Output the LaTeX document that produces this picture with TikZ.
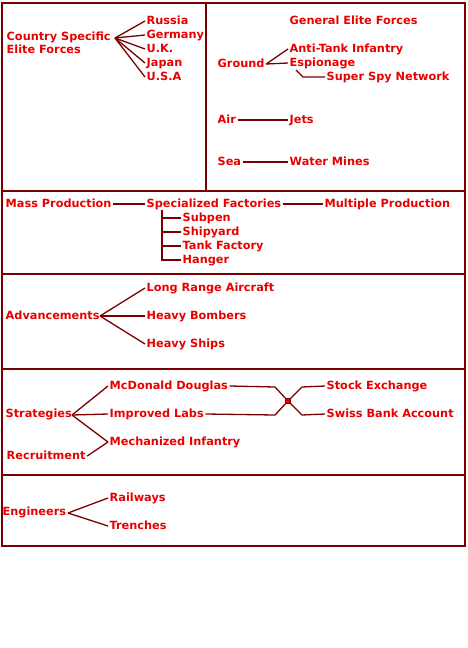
\documentclass[tikz,border=0pt]{standalone}
\usepackage{fontspec}
\setmainfont{DejaVu Sans}
\usepackage{xcolor}
\usepackage{pdfrender}
\definecolor{dred}{HTML}{7A0000}
\definecolor{tred}{HTML}{E80000}
\newcommand{\rtxt}[1]{\textpdfrender{TextRenderingMode=FillStroke,LineWidth=0.6pt,StrokeColor=dred,FillColor=tred}{#1}}
\begin{document}
\begin{tikzpicture}[x=1pt,y=-1pt,
  lbl/.style={anchor=west,inner xsep=1.5pt,inner ysep=0pt,text height=8pt,text depth=2pt,
    font=\bfseries\fontsize{11.3}{12}\selectfont,text=tred,execute at begin node=\rtxt\bgroup,execute at end node=\egroup},
  conn/.style={draw=dred,line width=1.3pt},
  frame/.style={draw=dred,line width=1.5pt}]
\useasboundingbox (0,0) rectangle (468,648);
% frame
\draw[frame] (2,3) rectangle (465,546);
\draw[frame] (2,191) -- (465,191);
\draw[frame] (2,274) -- (465,274);
\draw[frame] (2,369) -- (465,369);
\draw[frame] (2,475) -- (465,475);
\draw[frame] (206,3) -- (206,191);
% country specific
\node[lbl] (cs1) at (5,37) {Country Specific};
\node[lbl] (cs2) at (5,50) {Elite Forces};
\coordinate (csj) at (115,38);
\node[lbl] (rus) at (145,21) {Russia};
\node[lbl] (ger) at (145,35) {Germany};
\node[lbl] (uk) at (145,49) {U.K.};
\node[lbl] (jap) at (145,63) {Japan};
\node[lbl] (usa) at (145,77) {U.S.A};
\foreach \t in {rus,ger,uk,jap,usa} \draw[conn] (csj) -- (\t.west);
% general elite
\node[lbl] (gef) at (288,21) {General Elite Forces};
\node[lbl] (gnd) at (216,64) {Ground};
\node[lbl] (ati) at (288,49) {Anti-Tank Infantry};
\node[lbl] (esp) at (288,63) {Espionage};
\node[lbl] (ssn) at (325,77) {Super Spy Network};
\draw[conn] (gnd.east) -- (ati.west);
\draw[conn] (gnd.east) -- (esp.west);
\coordinate (espd) at (296,70);
\coordinate (espk) at (303,77);
\draw[conn] (espd) -- (espk) -- (ssn.west);
\node[lbl] (air) at (216,120) {Air};
\node[lbl] (jets) at (288,120) {Jets};
\draw[conn] (air.east) -- (jets.west);
\node[lbl] (sea) at (216,162) {Sea};
\node[lbl] (wm) at (288,162) {Water Mines};
\draw[conn] (sea.east) -- (wm.west);
% mass production
\node[lbl] (mass) at (4,204) {Mass Production};
\node[lbl] (sf) at (145,204) {Specialized Factories};
\node[lbl] (mp) at (323,204) {Multiple Production};
\draw[conn] (mass.east) -- (sf.west);
\draw[conn] (sf.east) -- (mp.west);
\node[lbl] (sub) at (181,218) {Subpen};
\node[lbl] (ship) at (181,232) {Shipyard};
\node[lbl] (tank) at (181,246) {Tank Factory};
\node[lbl] (hang) at (181,260) {Hanger};
\coordinate (sft) at (162,210);
\coordinate (sfb) at (162,260);
\draw[conn] (sft) -- (sfb) -- (hang.west);
\draw[conn] (sft |- sub.west) -- (sub.west);
\draw[conn] (sft |- ship.west) -- (ship.west);
\draw[conn] (sft |- tank.west) -- (tank.west);
% advancements
\node[lbl] (adv) at (4,316) {Advancements};
\coordinate (advj) at (100,316);
\node[lbl] (lra) at (145,288) {Long Range Aircraft};
\node[lbl] (hb) at (145,316) {Heavy Bombers};
\node[lbl] (hs) at (145,344) {Heavy Ships};
\foreach \t in {lra,hb,hs} \draw[conn] (advj) -- (\t.west);
% strategies
\node[lbl] (str) at (4,414) {Strategies};
\coordinate (strj) at (72,415);
\node[lbl] (md) at (108,386) {McDonald Douglas};
\node[lbl] (il) at (108,414) {Improved Labs};
\node[lbl] (mi) at (108,442) {Mechanized Infantry};
\node[lbl] (rec) at (5,456) {Recruitment};
\foreach \t in {md,il,mi} \draw[conn] (strj) -- (\t.west);
\draw[conn] (rec.east) -- (mi.west);
\node[lbl] (se) at (325,386) {Stock Exchange};
\node[lbl] (sba) at (325,414) {Swiss Bank Account};
\coordinate (jn) at (288,401);
\coordinate (mdk) at (275,387);
\coordinate (ilk) at (275,415);
\coordinate (sek) at (302,387);
\coordinate (sbak) at (302,415);
\draw[conn] (md.east) -- (mdk) -- (jn);
\draw[conn] (il.east) -- (ilk) -- (jn);
\draw[conn] (jn) -- (sek) -- (se.west);
\draw[conn] (jn) -- (sbak) -- (sba.west);
\node[draw=dred,fill=tred,line width=0.6pt,minimum size=5.5pt,inner sep=0pt] (jsq) at (jn) {};
% engineers
\node[lbl] (eng) at (1,512) {Engineers};
\coordinate (engj) at (68,513);
\node[lbl] (rail) at (108,498) {Railways};
\node[lbl] (tren) at (108,526) {Trenches};
\foreach \t in {rail,tren} \draw[conn] (engj) -- (\t.west);
\end{tikzpicture}
\end{document}
